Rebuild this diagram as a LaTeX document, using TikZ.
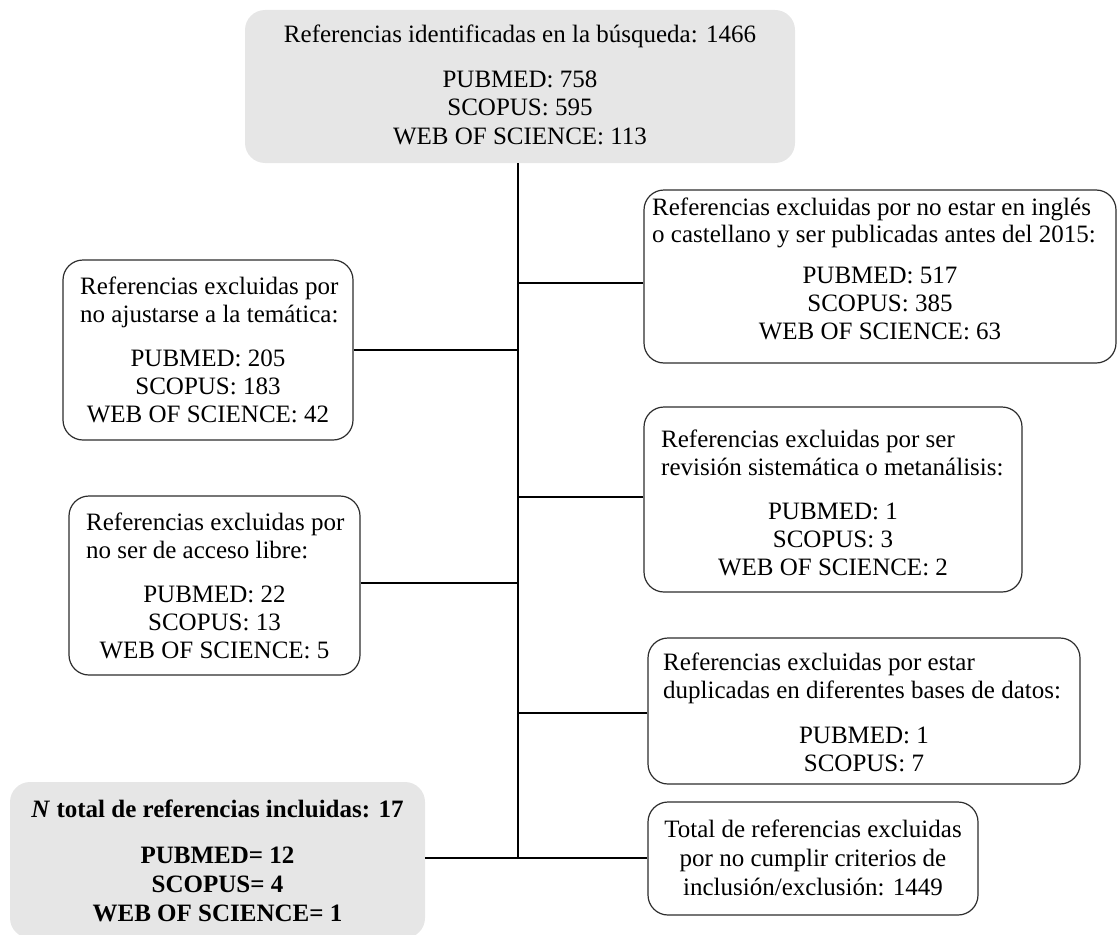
\documentclass[tikz,border=0pt]{standalone}
\usepackage{fontspec}
\setmainfont{Liberation Serif}
\definecolor{boxgray}{RGB}{230,230,230}
\definecolor{edgegray}{RGB}{45,45,45}
\begin{document}
\begin{tikzpicture}[x=1pt,y=-1pt,
  txt/.style={inner sep=0pt, font=\fontsize{25}{28.5}\selectfont},
  hd/.style={txt, anchor=base west},
  num/.style={txt, anchor=base},
  bnum/.style={num, font=\fontsize{25}{28.5}\selectfont\bfseries},
  graybox/.style={rectangle, rounded corners=20pt, fill=boxgray, inner sep=0pt},
  whitebox/.style={rectangle, rounded corners=20pt, draw=edgegray, line width=1.2pt, fill=white, inner sep=0pt},
  link/.style={draw=black, line width=1.1pt}]
\useasboundingbox (0,0) rectangle (1118,934);

% boxes
\node[graybox, minimum width=550pt, minimum height=153pt] (top) at (520,86.5) {};
\node[whitebox, minimum width=472pt, minimum height=173pt] (R1) at (880,276.5) {};
\node[whitebox, minimum width=290pt, minimum height=180pt] (L1) at (208,350) {};
\node[whitebox, minimum width=378pt, minimum height=185pt] (R2) at (833,499.5) {};
\node[whitebox, minimum width=291pt, minimum height=179pt] (L2) at (214.5,585.5) {};
\node[whitebox, minimum width=432pt, minimum height=146pt] (D) at (864,711) {};
\node[graybox, minimum width=415pt, minimum height=156pt] (N) at (217.5,860) {};
\node[whitebox, minimum width=330pt, minimum height=113pt] (T) at (813,858.5) {};

% connectors
\coordinate (spb) at (518,858);
\draw[link] (top.south -| spb) -- (spb);
\draw[link] ([yshift=-6.5pt]R1.west) -- ([yshift=-6.5pt]R1.west -| spb);
\draw[link] (L1.east) -- (L1.east -| spb);
\draw[link] ([yshift=2.5pt]R2.west) -- ([yshift=2.5pt]R2.west -| spb);
\draw[link] ([yshift=2.5pt]L2.east) -- ([yshift=2.5pt]L2.east -| spb);
\draw[link] ([yshift=-2pt]D.west) -- ([yshift=-2pt]D.west -| spb);
\draw[link] (N.east |- spb) -- (spb) -- (T.west |- spb);

% texts: top
\node[num] (t1) at (520,43) {Referencias identificadas en la búsqueda: 1466};
\node[num] (t2) at (520,87) {PUBMED: 758};
\node[num] (t3) at (520,115.5) {SCOPUS: 595};
\node[num] (t4) at (520,144) {WEB OF SCIENCE: 113};

% R1
\node[hd] (r1a) at (652,215) {Referencias excluidas por no estar en inglés};
\node[hd] (r1b) at (652,242) {o castellano y ser publicadas antes del 2015:};
\node[num] (r1c) at (880,283) {PUBMED: 517};
\node[num] (r1d) at (880,311) {SCOPUS: 385};
\node[num] (r1e) at (880,339) {WEB OF SCIENCE: 63};

% L1
\node[hd] (l1a) at (80,294) {Referencias excluidas por};
\node[hd] (l1b) at (80,322) {no ajustarse a la temática:};
\node[num] (l1c) at (208,366) {PUBMED: 205};
\node[num] (l1d) at (208,394) {SCOPUS: 183};
\node[num] (l1e) at (208,422) {WEB OF SCIENCE: 42};

% R2
\node[hd] (r2a) at (661,447) {Referencias excluidas por ser};
\node[hd] (r2b) at (661,475) {revisión sistemática o metanálisis:};
\node[num] (r2c) at (833,519) {PUBMED: 1};
\node[num] (r2d) at (833,547) {SCOPUS: 3};
\node[num] (r2e) at (833,575) {WEB OF SCIENCE: 2};

% L2
\node[hd] (l2a) at (86,530) {Referencias excluidas por};
\node[hd] (l2b) at (86,558) {no ser de acceso libre:};
\node[num] (l2c) at (214.5,602) {PUBMED: 22};
\node[num] (l2d) at (214.5,630) {SCOPUS: 13};
\node[num] (l2e) at (214.5,658) {WEB OF SCIENCE: 5};

% D
\node[hd] (da) at (663,670) {Referencias excluidas por estar};
\node[hd] (db) at (663,698) {duplicadas en diferentes bases de datos:};
\node[num] (dc) at (864,743) {PUBMED: 1};
\node[num] (dd) at (864,771) {SCOPUS: 7};

% N
\node[bnum] (na) at (217.5,817) {\textit{N} total de referencias incluidas: 17};
\node[bnum] (nb) at (217.5,863) {PUBMED= 12};
\node[bnum] (nc) at (217.5,892) {SCOPUS= 4};
\node[bnum] (nd) at (217.5,921) {WEB OF SCIENCE= 1};

% T
\node[num] (ta) at (813,837) {Total de referencias excluidas};
\node[num] (tb) at (813,866) {por no cumplir criterios de};
\node[num] (tc) at (813,895) {inclusión/exclusión: 1449};
\end{tikzpicture}
\end{document}
